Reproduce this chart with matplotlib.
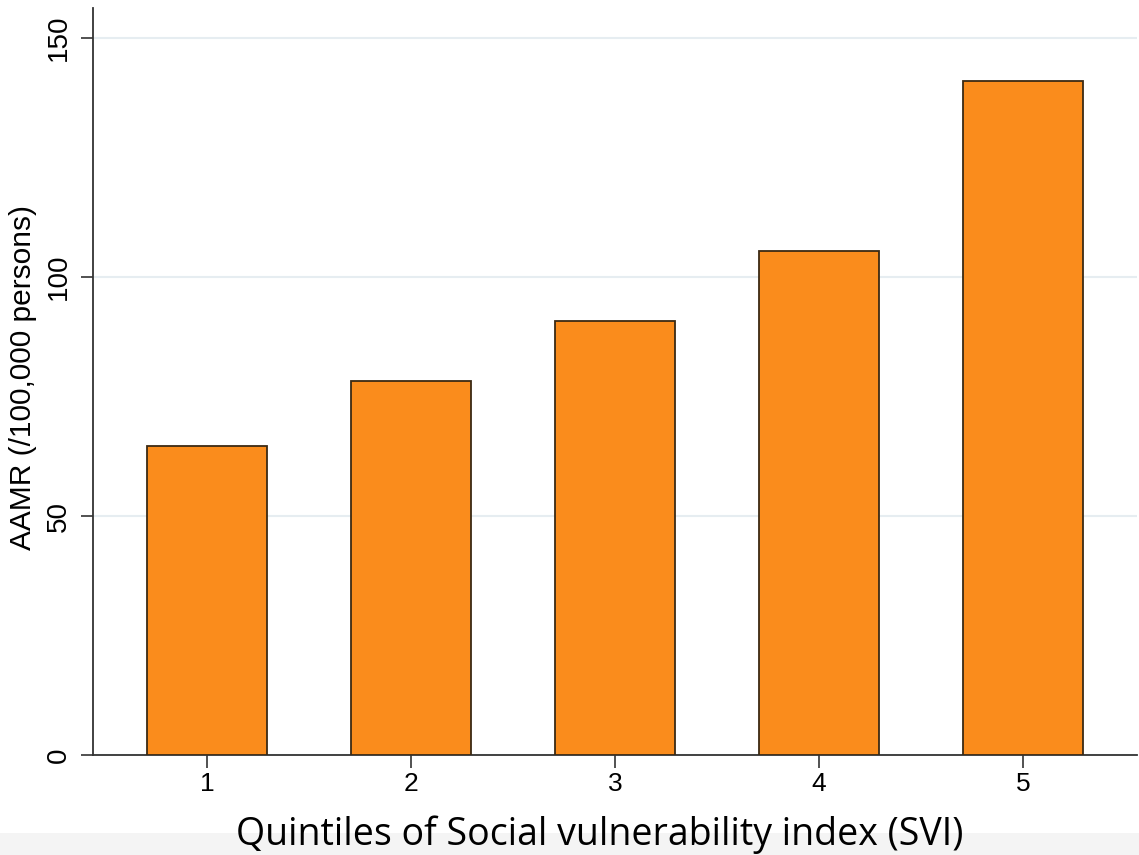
import matplotlib
matplotlib.use("Agg")
import matplotlib.pyplot as plt
from matplotlib.patches import Rectangle

quintiles = ["1", "2", "3", "4", "5"]
aamr = [64.6, 78.2, 90.8, 105.4, 141.0]
yticks = [0, 50, 100, 150]

W, H = 1139, 855
fig = plt.figure(figsize=(W / 100, H / 100), dpi=100)
fig.patch.set_facecolor("white")
# light gray band at bottom
fig.patches.append(Rectangle((0, 0), 1, 22 / H, transform=fig.transFigure,
                             facecolor="#f4f4f4", edgecolor="none", zorder=0))

ax = fig.add_axes([93 / W, 1 - 755 / H, (1137 - 93) / W, (755 - 8) / H])
x = list(range(1, len(quintiles) + 1))
ax.bar(x, aamr, width=0.59, color="#FA8C1C", edgecolor="#3b2a14", linewidth=1.3, zorder=3)

ax.set_xlim(0.44, 5.56)
ax.set_ylim(0, 156.3)
ax.set_xticks(x)
ax.set_xticklabels(quintiles, fontsize=19, family="Liberation Sans")
ax.set_yticks(yticks)
ax.set_yticklabels([str(v) for v in yticks], fontsize=20, family="Liberation Sans",
                   rotation=90, va="center")
ax.yaxis.grid(True, color="#e6edf1", linewidth=1.5, zorder=0)
ax.set_axisbelow(True)
for s in ["top", "right"]:
    ax.spines[s].set_visible(False)
for s in ["left", "bottom"]:
    ax.spines[s].set_color("#333333")
    ax.spines[s].set_linewidth(1.3)
ax.tick_params(axis="both", length=9, width=1.2, color="#333333", pad=6)
ax.tick_params(axis="x", pad=3)

ax.set_ylabel("AAMR (/100,000 persons)", fontsize=21.5, family="Liberation Sans")
ax.yaxis.label.set_va("center")
ax.yaxis.set_label_coords(-70 / (1137 - 93), (755 - 377) / (755 - 8))
fig.text(600 / W, 1 - 835 / H, "Quintiles of Social vulnerability index (SVI)",
         fontsize=27, family="Open Sans", ha="center", va="center")

fig.savefig("out.png", dpi=100)
